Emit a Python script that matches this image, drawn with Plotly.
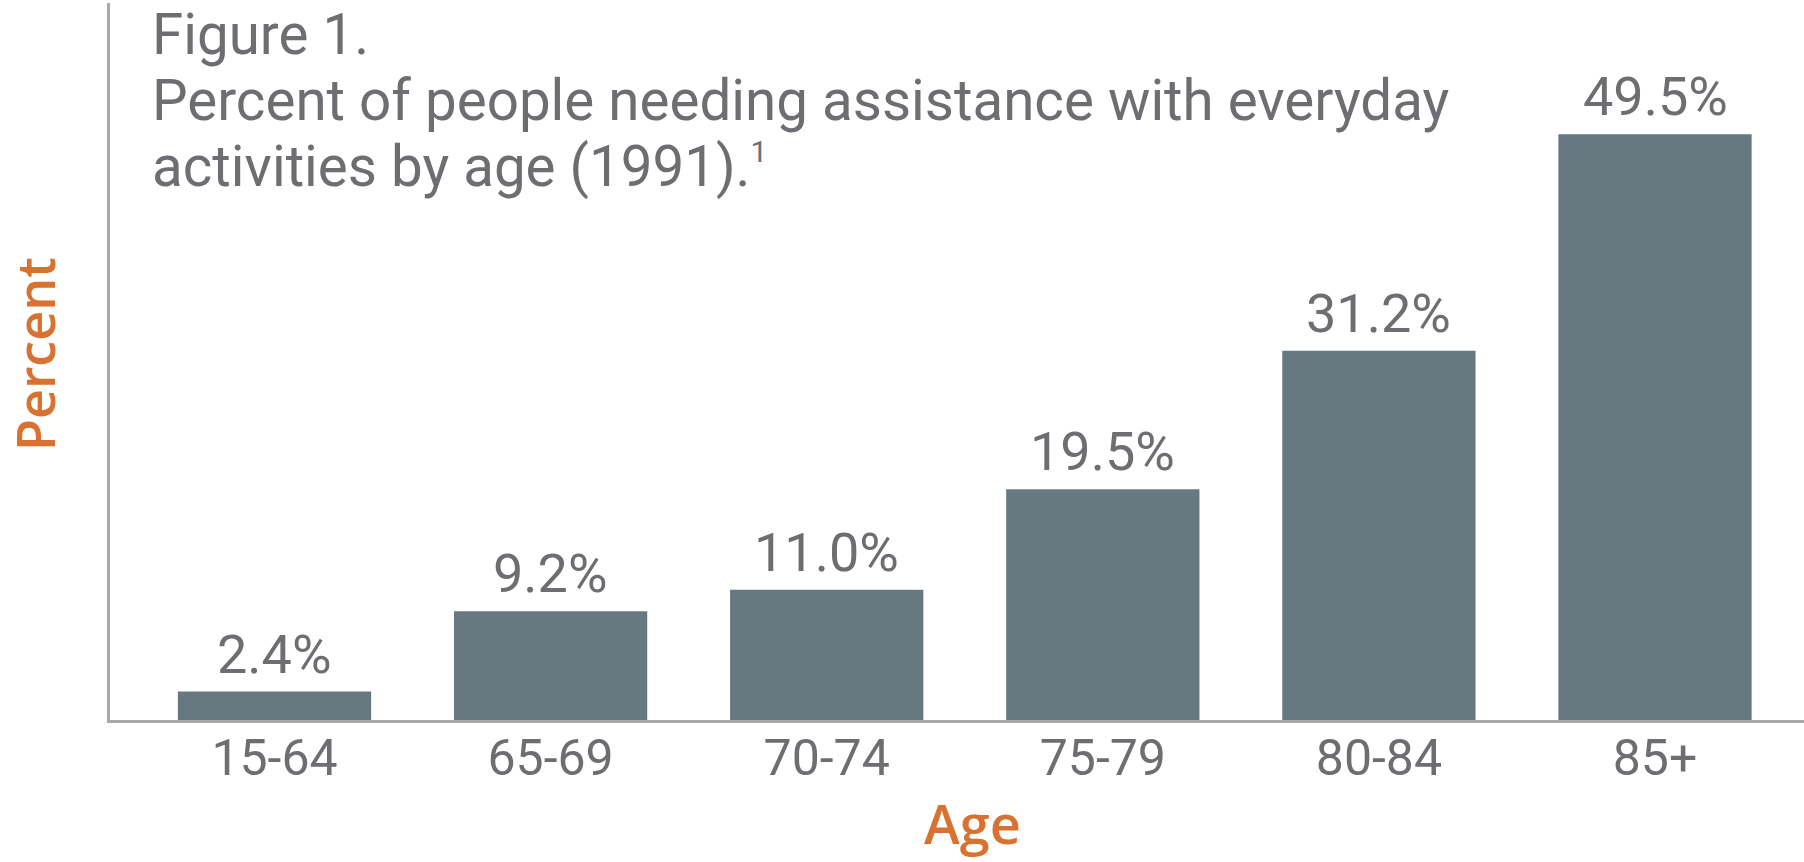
import plotly.graph_objects as go

# Data
age_groups = ["15-64", "65-69", "70-74", "75-79", "80-84", "85+"]
percent_needing_help = [2.4, 9.2, 11.0, 19.5, 31.2, 49.5]

title_lines = [
    "Figure 1.",
    "Percent of people needing assistance with everyday",
    "activities by age (1991).<sup><span style=\"font-size:30px\">1</span></sup>",
]

# Styling
TEXT_GRAY = "#6d6e71"
BAR_COLOR = "#677880"
AXIS_GRAY = "#a7a9ac"
ORANGE = "#d97131"
W, H = 1804, 862
M_L, M_R, M_T, M_B = 110, 0, 3, 142
PLOT_H = H - M_T - M_B


def py(px):
    """Convert a pixel row (from the top of the page) to paper y."""
    return (H - M_B - px) / PLOT_H


def px_x(px):
    return (px - M_L) / (W - M_L - M_R)


# category axis: first centre at x=274.5 px, 276.1 px between categories
cat_step = 276.1
x_lo = (M_L - 274.5) / cat_step
x_hi = (W - M_R - 274.5) / cat_step

fig = go.Figure(
    go.Bar(
        x=age_groups,
        y=percent_needing_help,
        marker=dict(color=BAR_COLOR, line=dict(width=0)),
        width=0.70,
        hoverinfo="skip",
    )
)

annotations = []

# value labels above each bar
for cat, val in zip(age_groups, percent_needing_help):
    annotations.append(dict(
        x=cat, y=val, xref="x", yref="y",
        text=f"{val:.1f}%", showarrow=False,
        xanchor="center", yanchor="bottom", yshift=4,
        font=dict(family="Roboto", size=54, color=TEXT_GRAY),
    ))

# title block, one annotation per line
for line, ymid in zip(title_lines, [35, 101, 167]):
    annotations.append(dict(
        x=px_x(150), y=py(ymid), xref="paper", yref="paper",
        text=line, showarrow=False, xanchor="left", yanchor="middle",
        font=dict(family="Roboto", size=56.5, color=TEXT_GRAY),
    ))

# axis titles
annotations.append(dict(
    x=px_x(972), y=py(823), xref="paper", yref="paper",
    text="Age", showarrow=False, xanchor="center", yanchor="middle",
    font=dict(family="Open Sans", size=54, color=ORANGE, weight=600),
))
annotations.append(dict(
    x=px_x(34), y=py(354), xref="paper", yref="paper",
    text="Percent", showarrow=False, xanchor="center", yanchor="middle",
    textangle=-90,
    font=dict(family="Open Sans", size=52, color=ORANGE, weight=600),
))

fig.update_layout(
    width=W, height=H,
    margin=dict(l=M_L, r=M_R, t=M_T, b=M_B, pad=0),
    paper_bgcolor="white", plot_bgcolor="white",
    showlegend=False,
    annotations=annotations,
    xaxis=dict(
        range=[x_lo, x_hi],
        showline=True, linecolor=AXIS_GRAY, linewidth=3,
        showgrid=False, zeroline=False, ticks="",
        tickfont=dict(family="Roboto", size=50, color=TEXT_GRAY),
        ticklabelstandoff=-8,
        fixedrange=True,
    ),
    yaxis=dict(
        range=[0, 60.6],
        showline=True, linecolor=AXIS_GRAY, linewidth=3,
        showgrid=False, zeroline=False, ticks="", showticklabels=False,
        fixedrange=True,
    ),
)

fig.write_html("out.html", config={"displayModeBar": False})
